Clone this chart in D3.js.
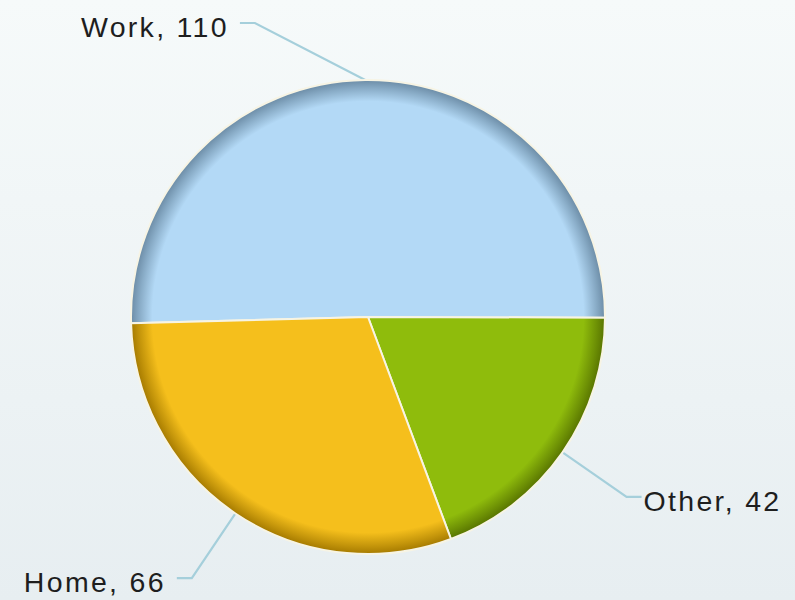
<!DOCTYPE html>
<html>
<head>
<meta charset="utf-8">
<script src="https://cdn.jsdelivr.net/npm/d3@7"></script>
<style>
  html, body { margin: 0; padding: 0; }
  body { width: 795px; height: 600px; overflow: hidden; }
</style>
</head>
<body>
<svg id="chart" width="795" height="600"></svg>
<script>
const categories = ["Work", "Other", "Home"];
const values = [110, 42, 66];
const baseColors = ["#b3d9f6", "#8fbc0c", "#f5bf1c"];
const edgeColors = ["#6c8ca6", "#587400", "#a57a00"];

const W = 795, H = 600;
const cx = 368, cy = 317, R = 237;
const elbowR = 315;
const startAngle = -91.5 * Math.PI / 180;

const svg = d3.select("#chart");
const defs = svg.append("defs");

const bg = defs.append("linearGradient").attr("id", "bg")
  .attr("x1", 0).attr("y1", 0).attr("x2", 0).attr("y2", 1);
bg.append("stop").attr("offset", 0).attr("stop-color", "#f6fafa");
bg.append("stop").attr("offset", 1).attr("stop-color", "#e7eef1");
svg.append("rect").attr("width", W).attr("height", H).attr("fill", "url(#bg)");

categories.forEach((c, i) => {
  const g = defs.append("radialGradient").attr("id", "g" + i)
    .attr("gradientUnits", "userSpaceOnUse")
    .attr("cx", 0).attr("cy", 0).attr("r", R);
  g.append("stop").attr("offset", 0).attr("stop-color", baseColors[i]);
  g.append("stop").attr("offset", 0.91).attr("stop-color", baseColors[i]);
  g.append("stop").attr("offset", 0.965).attr("stop-color", d3.interpolateRgb(baseColors[i], edgeColors[i])(0.6));
  g.append("stop").attr("offset", 1).attr("stop-color", edgeColors[i]);
});

const data = categories.map((c, i) => ({ name: c, value: values[i], i }));
const pie = d3.pie().value(d => d.value).sort(null)
  .startAngle(startAngle).endAngle(startAngle + 2 * Math.PI);
const arcs = pie(data);
const arc = d3.arc().innerRadius(0).outerRadius(R);

const gLab = svg.append("g");
arcs.forEach(a => {
  const mid = (a.startAngle + a.endAngle) / 2;
  const sx = cx + R * Math.sin(mid), sy = cy - R * Math.cos(mid);
  const side = Math.sin(mid) < 0 ? -1 : 1;
  let ey = cy - elbowR * Math.cos(mid);
  ey = Math.max(23, Math.min(H - 21, ey));
  const dy = ey - cy;
  const ex = cx + side * Math.sqrt(Math.max(0, elbowR * elbowR - dy * dy));
  const hx = ex + side * 15;
  gLab.append("path")
    .attr("d", `M${sx},${sy}L${ex},${ey}L${hx},${ey}`)
    .attr("fill", "none").attr("stroke", "#a5cfdb").attr("stroke-width", 2.2);
  gLab.append("text")
    .attr("x", hx + (side < 0 ? -11 : 2)).attr("y", ey + 14)
    .attr("text-anchor", side < 0 ? "end" : "start")
    .attr("font-family", "Liberation Sans, Arial, sans-serif")
    .attr("font-size", 28.5)
    .attr("letter-spacing", 2.3)
    .attr("fill", "#1e1e1e")
    .text(`${a.data.name}, ${a.data.value}`);
});

const gPie = svg.append("g").attr("transform", `translate(${cx},${cy})`);
gPie.selectAll("path.slice").data(arcs).enter().append("path")
  .attr("class", "slice")
  .attr("d", arc)
  .attr("fill", d => `url(#g${d.data.i})`)
  .attr("stroke", "#f7f4e4")
  .attr("stroke-width", 2)
  .attr("stroke-linejoin", "round");
</script>
</body>
</html>
